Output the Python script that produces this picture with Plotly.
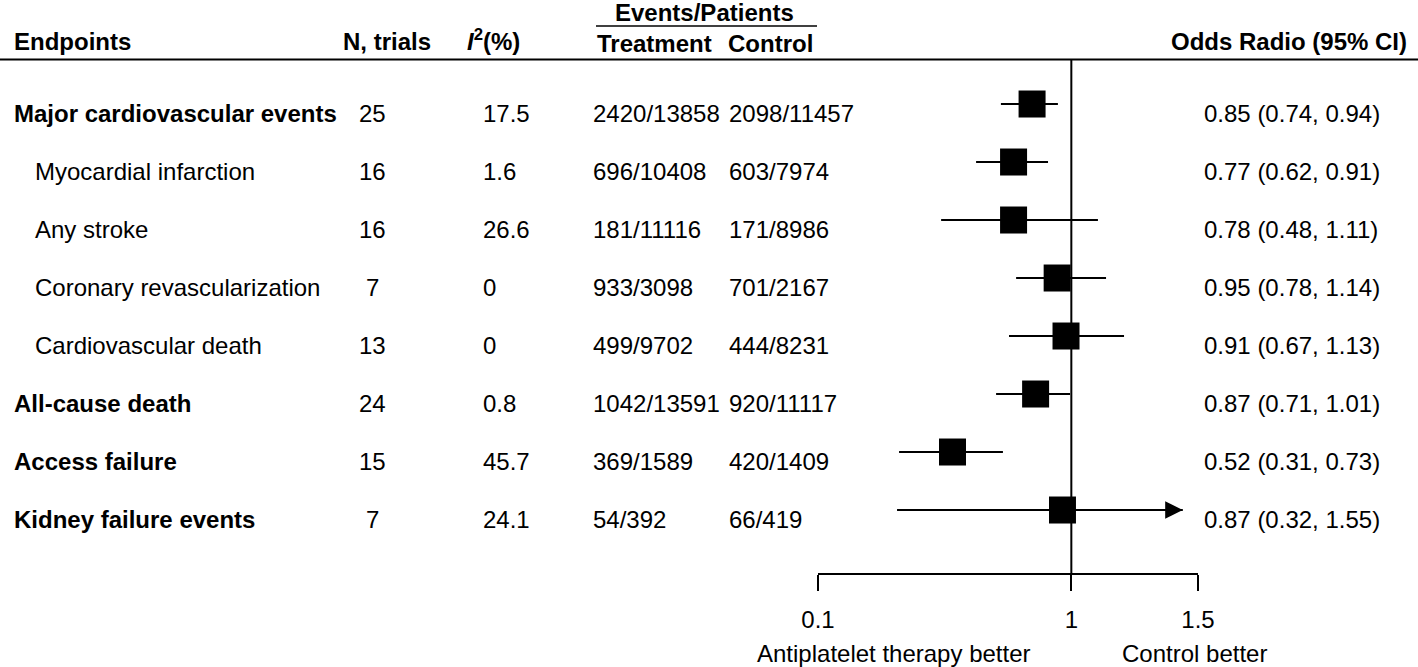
import plotly.graph_objects as go

# rows of the forest plot, top to bottom
endpoints = [
    "Major cardiovascular events",
    "Myocardial infarction",
    "Any stroke",
    "Coronary revascularization",
    "Cardiovascular death",
    "All-cause death",
    "Access failure",
    "Kidney failure events",
]
is_main = [True, False, False, False, False, True, True, True]
n_trials = [25, 16, 16, 7, 13, 24, 15, 7]
i2_pct = ["17.5", "1.6", "26.6", "0", "0", "0.8", "45.7", "24.1"]
treatment_events = ["2420/13858", "696/10408", "181/11116", "933/3098",
                    "499/9702", "1042/13591", "369/1589", "54/392"]
control_events = ["2098/11457", "603/7974", "171/8986", "701/2167",
                  "444/8231", "920/11117", "420/1409", "66/419"]
or_labels = ["0.85 (0.74, 0.94)", "0.77 (0.62, 0.91)", "0.78 (0.48, 1.11)",
             "0.95 (0.78, 1.14)", "0.91 (0.67, 1.13)", "0.87 (0.71, 1.01)",
             "0.52 (0.31, 0.73)", "0.87 (0.32, 1.55)"]

# where the squares / whiskers are drawn
or_point = [0.845, 0.772, 0.772, 0.944, 0.979, 0.859, 0.531, 0.965]
ci_low = [0.722, 0.624, 0.486, 0.782, 0.754, 0.703, 0.320, 0.312]
ci_high = [0.947, 0.908, 1.105, 1.137, 1.208, 0.995, 0.730, 1.44]
arrow_rows = [7]  # upper limit is truncated, drawn as an arrow

tick_vals = [0, 1, 1.5]
tick_text = ["0.1", "1", "1.5"]

W, H = 1418, 667
FONT = "Liberation Sans, Arial, Helvetica, sans-serif"
FS = 24


def px(x):
    return x / W


def py(y):
    return 1 - y / H


rows = list(range(len(endpoints)))

# whiskers
line_x, line_y = [], []
for i in rows:
    line_x += [ci_low[i], ci_high[i], None]
    line_y += [i, i, None]

fig = go.Figure()
fig.add_trace(go.Scatter(
    x=line_x, y=line_y, mode="lines",
    line=dict(color="black", width=2.2), hoverinfo="skip",
))
fig.add_trace(go.Scatter(
    x=or_point, y=rows, mode="markers",
    marker=dict(symbol="square", size=27, color="black",
                line=dict(width=0)),
    cliponaxis=False,
))

annotations = []


def txt(text, x, y, xanchor="left", yref="paper", yshift=0):
    annotations.append(dict(
        text=text, x=x, y=y, xref="paper", yref=yref, xanchor=xanchor,
        yanchor="middle", showarrow=False, yshift=yshift,
        font=dict(family=FONT, size=FS, color="black"),
    ))


# header
txt("<b>Endpoints</b>", px(12), py(42))
txt("<b>N, trials</b>", px(341), py(42))
txt("<b><i>I</i><sup>2</sup>(%)</b>", px(465), py(40))
txt("<b>Events/Patients</b>", px(704), py(12), xanchor="center")
txt("<b>Treatment</b>", px(595), py(44))
txt("<b>Control</b>", px(726), py(44))
txt("<b>Odds Radio (95% CI)</b>", px(1409), py(42), xanchor="right")

# body
for i in rows:
    name = f"<b>{endpoints[i]}</b>" if is_main[i] else endpoints[i]
    txt(name, px(12 if is_main[i] else 33), i, yref="y", yshift=-9)
    txt(str(n_trials[i]), px(373), i, xanchor="center", yref="y", yshift=-9)
    txt(i2_pct[i], px(481), i, yref="y", yshift=-9)
    txt(treatment_events[i], px(591), i, yref="y", yshift=-9)
    txt(control_events[i], px(727), i, yref="y", yshift=-9)
    txt(or_labels[i], px(1202), i, yref="y", yshift=-9)

# footer
txt("Antiplatelet therapy better", px(894), py(653), xanchor="center")
txt("Control better", px(1194), py(653), xanchor="center")

# truncated CI arrows
for i in arrow_rows:
    annotations.append(dict(
        x=ci_high[i], y=i, ax=ci_low[i], ay=i, xref="x", yref="y",
        axref="x", ayref="y", text="", showarrow=True, arrowhead=2,
        arrowsize=1.6, arrowwidth=2.2, arrowcolor="black", standoff=0,
    ))

shapes = [
    # top rule
    dict(type="line", xref="paper", yref="paper", x0=0, x1=1,
         y0=py(59.5), y1=py(59.5), line=dict(color="black", width=2)),
    # Events/Patients underline
    dict(type="line", xref="paper", yref="paper", x0=px(596), x1=px(817),
         y0=py(26), y1=py(26), line=dict(color="black", width=1.6)),
    # no-effect line
    dict(type="line", xref="x", yref="y domain", x0=1, x1=1, y0=0, y1=1,
         line=dict(color="black", width=2)),
]

fig.update_layout(
    template="none",
    width=W, height=H,
    margin=dict(l=0, r=0, t=0, b=0, pad=0, autoexpand=False),
    paper_bgcolor="white", plot_bgcolor="white",
    showlegend=False,
    annotations=annotations,
    shapes=shapes,
    font=dict(family=FONT, size=FS, color="black"),
    xaxis=dict(
        domain=[px(818), px(1198)], range=[0, 1.5], automargin=False,
        showgrid=False, zeroline=False,
        showline=True, linecolor="black", linewidth=2,
        ticks="outside", ticklen=16, tickwidth=2, tickcolor="black",
        tickvals=tick_vals, ticktext=tick_text, ticklabelstandoff=8,
        tickfont=dict(family=FONT, size=FS, color="black"),
        fixedrange=True,
    ),
    yaxis=dict(
        domain=[py(573), py(59)], range=[8.086, -0.776], automargin=False,
        visible=False, fixedrange=True,
    ),
)

fig.write_html(
    "out.html",
    config={"displayModeBar": False},
    post_script="document.body.style.margin='0';"
                "document.body.style.overflow='hidden';",
)
